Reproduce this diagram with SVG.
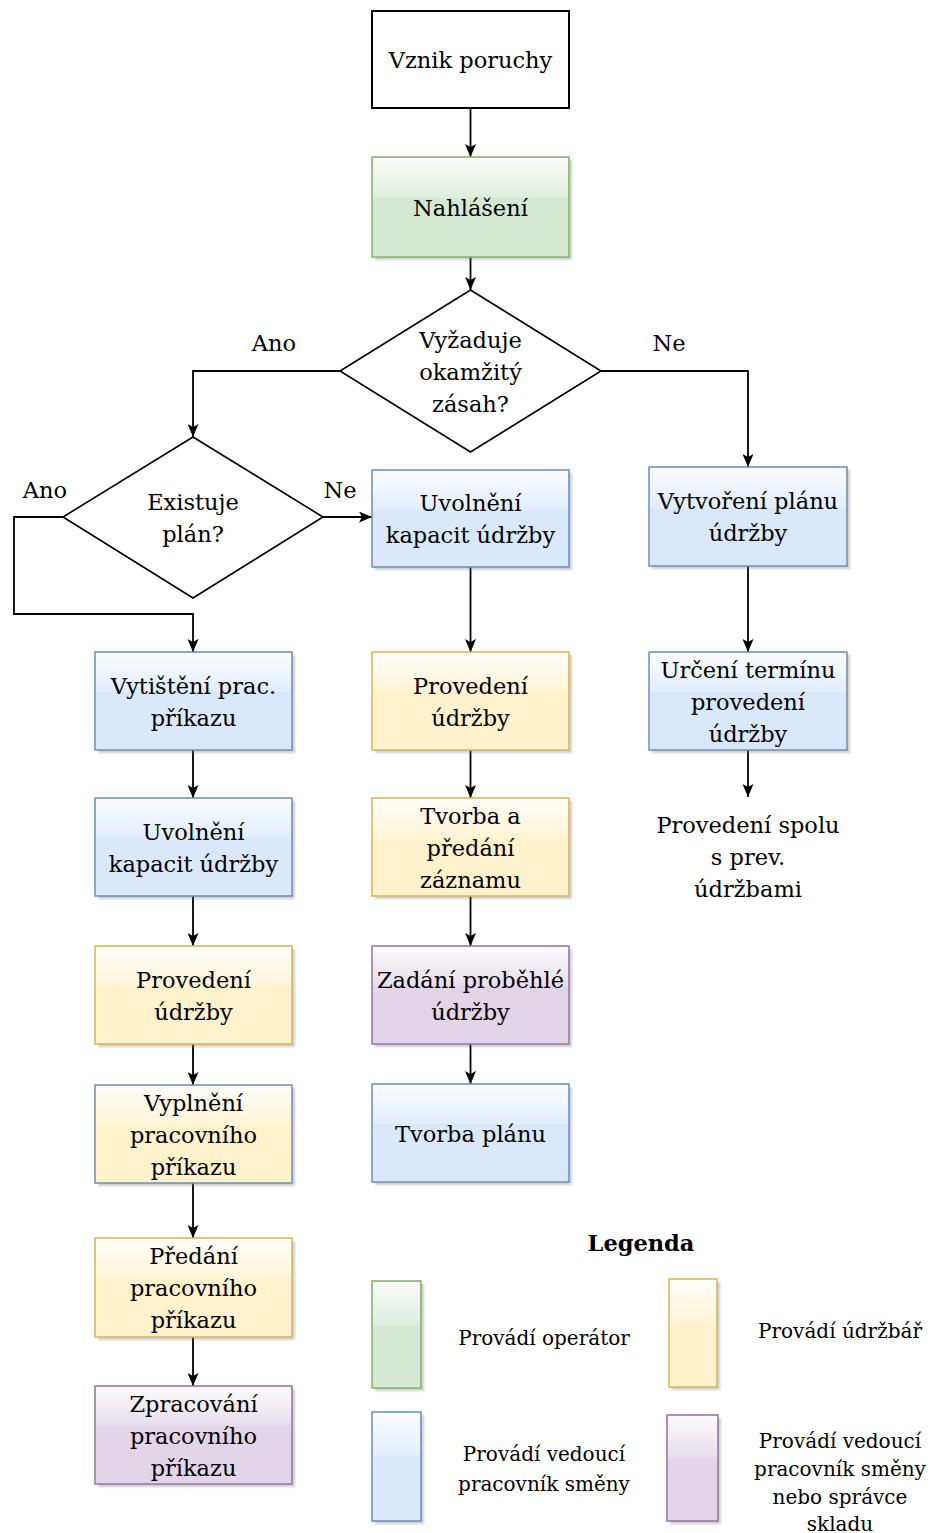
<svg xmlns="http://www.w3.org/2000/svg" width="931" height="1533" viewBox="0 0 931 1533">
  <style>
    text { font-family: "DejaVu Serif", "Liberation Serif", serif; font-size: 22.5px; fill: #000; text-anchor: middle; }
    .lg { font-size: 20px; }
    .title { font-weight: bold; font-size: 22.5px; }
    .box { stroke-width: 1.5; }
    .g { fill: #d5e8d4; stroke: #82b366; }
    .b { fill: #dae8fc; stroke: #6c8ebf; }
    .y { fill: #fff2cc; stroke: #d6b656; }
    .yb { fill: #fff2cc; stroke: #6c8ebf; }
    .p { fill: #e1d5e7; stroke: #9673a6; }
    .glass { fill: url(#glass); stroke: none; }
    .shadow { fill: #777; opacity: 0.35; filter: url(#soft); }
    .dia { fill: #fff; stroke: #000; stroke-width: 1.6; }
    .edge { fill: none; stroke: #000; stroke-width: 1.8; marker-end: url(#arrow); }
  </style>
  <defs>
    <linearGradient id="glass" x1="0" y1="0" x2="0" y2="1">
      <stop offset="0" stop-color="#fff" stop-opacity="0.9"/>
      <stop offset="1" stop-color="#fff" stop-opacity="0.2"/>
    </linearGradient>
    <filter id="soft" x="-10%" y="-10%" width="120%" height="120%">
      <feGaussianBlur stdDeviation="1"/>
    </filter>
    <marker id="arrow" viewBox="0 0 13 11" markerWidth="13" markerHeight="11" refX="13" refY="5.5" orient="auto" markerUnits="userSpaceOnUse">
      <path d="M0,0 L13,5.5 L0,11 L3,5.5 z" fill="#000"/>
    </marker>
  </defs>

  <rect width="931" height="1533" fill="#fff"/>

  <!-- connectors -->
  <g id="connectors">
    <line class="edge" x1="470.5" y1="108" x2="470.5" y2="157"/>
    <line class="edge" x1="470.5" y1="257" x2="470.5" y2="290"/>
    <polyline class="edge" points="340,371 193,371 193,437"/>
    <polyline class="edge" points="601,371 748,371 748,467"/>
    <line class="edge" x1="323" y1="517" x2="372" y2="517"/>
    <polyline class="edge" points="63,517 14,517 14,614 193,614 193,652"/>
    <line class="edge" x1="470.5" y1="567" x2="470.5" y2="652"/>
    <line class="edge" x1="748" y1="566" x2="748" y2="652"/>
    <line class="edge" x1="748" y1="750" x2="748" y2="797"/>
    <line class="edge" x1="193" y1="750" x2="193" y2="798"/>
    <line class="edge" x1="193" y1="896" x2="193" y2="946"/>
    <line class="edge" x1="193" y1="1044" x2="193" y2="1085"/>
    <line class="edge" x1="193" y1="1183" x2="193" y2="1238"/>
    <line class="edge" x1="193" y1="1337" x2="193" y2="1386"/>
    <line class="edge" x1="470.5" y1="750" x2="470.5" y2="798"/>
    <line class="edge" x1="470.5" y1="896" x2="470.5" y2="946"/>
    <line class="edge" x1="470.5" y1="1044" x2="470.5" y2="1084"/>
    <text x="274" y="351">Ano</text>
    <text x="669" y="351">Ne</text>
    <text x="45" y="498">Ano</text>
    <text x="340" y="498">Ne</text>
  </g>

  <!-- start -->
  <g id="n_vznik">
    <rect x="372" y="11" width="197" height="97" fill="#fff" stroke="#000" stroke-width="2"/>
    <text x="470.5" y="68">Vznik poruchy</text>
  </g>

  <g id="n_nahlaseni">
    <rect class="shadow" x="375" y="160" width="197" height="100"/>
    <rect class="box g" x="372" y="157" width="197" height="100"/>
    <rect class="glass" x="373" y="158" width="195" height="40"/>
    <text x="470.5" y="215.5">Nahlášení</text>
  </g>

  <!-- decisions -->
  <g id="n_okamzity">
    <polygon class="dia" points="470.5,290 601,371 470.5,452 340,371"/>
    <text x="470.5" y="347.5">Vyžaduje</text>
    <text x="470.5" y="379.5">okamžitý</text>
    <text x="470.5" y="411.5">zásah?</text>
  </g>

  <g id="n_plan">
    <polygon class="dia" points="193,437 323,517 193,598 63,517"/>
    <text x="193" y="509.5">Existuje</text>
    <text x="193" y="541.5">plán?</text>
  </g>

  <!-- middle column -->
  <g id="n_uvolneni_a">
    <rect class="shadow" x="375" y="473" width="197" height="97"/>
    <rect class="box b" x="372" y="470" width="197" height="97"/>
    <rect class="glass" x="373" y="471" width="195" height="39"/>
    <text x="470.5" y="511">Uvolnění</text>
    <text x="470.5" y="543">kapacit údržby</text>
  </g>

  <g id="n_provedeni_a">
    <rect class="shadow" x="375" y="655" width="197" height="98"/>
    <rect class="box y" x="372" y="652" width="197" height="98"/>
    <rect class="glass" x="373" y="653" width="195" height="39"/>
    <text x="470.5" y="693.5">Provedení</text>
    <text x="470.5" y="725.5">údržby</text>
  </g>

  <g id="n_zaznam">
    <rect class="shadow" x="375" y="801" width="197" height="98"/>
    <rect class="box y" x="372" y="798" width="197" height="98"/>
    <rect class="glass" x="373" y="799" width="195" height="39"/>
    <text x="470.5" y="823.5">Tvorba a</text>
    <text x="470.5" y="855.5">předání</text>
    <text x="470.5" y="887.5">záznamu</text>
  </g>

  <g id="n_zadani">
    <rect class="shadow" x="375" y="949" width="197" height="98"/>
    <rect class="box p" x="372" y="946" width="197" height="98"/>
    <rect class="glass" x="373" y="947" width="195" height="39"/>
    <text x="470.5" y="987.5">Zadání proběhlé</text>
    <text x="470.5" y="1019.5">údržby</text>
  </g>

  <g id="n_tvorba_planu">
    <rect class="shadow" x="375" y="1087" width="197" height="98"/>
    <rect class="box b" x="372" y="1084" width="197" height="98"/>
    <rect class="glass" x="373" y="1085" width="195" height="39"/>
    <text x="470.5" y="1141.5">Tvorba plánu</text>
  </g>

  <!-- right column -->
  <g id="n_vytvoreni">
    <rect class="shadow" x="652" y="470" width="198" height="99"/>
    <rect class="box b" x="649" y="467" width="198" height="99"/>
    <rect class="glass" x="650" y="468" width="196" height="40"/>
    <text x="748" y="509">Vytvoření plánu</text>
    <text x="748" y="541">údržby</text>
  </g>

  <g id="n_urceni">
    <rect class="shadow" x="652" y="655" width="198" height="98"/>
    <rect class="box b" x="649" y="652" width="198" height="98"/>
    <rect class="glass" x="650" y="653" width="196" height="39"/>
    <text x="748" y="677.5">Určení termínu</text>
    <text x="748" y="709.5">provedení</text>
    <text x="748" y="741.5">údržby</text>
  </g>

  <g id="n_spolu">
    <text x="748" y="833">Provedení spolu</text>
    <text x="748" y="865">s prev.</text>
    <text x="748" y="897">údržbami</text>
  </g>

  <!-- left column -->
  <g id="n_vytisteni">
    <rect class="shadow" x="98" y="655" width="197" height="98"/>
    <rect class="box b" x="95" y="652" width="197" height="98"/>
    <rect class="glass" x="96" y="653" width="195" height="39"/>
    <text x="193.5" y="693.5">Vytištění prac.</text>
    <text x="193.5" y="725.5">příkazu</text>
  </g>

  <g id="n_uvolneni_b">
    <rect class="shadow" x="98" y="801" width="197" height="98"/>
    <rect class="box b" x="95" y="798" width="197" height="98"/>
    <rect class="glass" x="96" y="799" width="195" height="39"/>
    <text x="193.5" y="839.5">Uvolnění</text>
    <text x="193.5" y="871.5">kapacit údržby</text>
  </g>

  <g id="n_provedeni_b">
    <rect class="shadow" x="98" y="949" width="197" height="98"/>
    <rect class="box y" x="95" y="946" width="197" height="98"/>
    <rect class="glass" x="96" y="947" width="195" height="39"/>
    <text x="193.5" y="987.5">Provedení</text>
    <text x="193.5" y="1019.5">údržby</text>
  </g>

  <g id="n_vyplneni">
    <rect class="shadow" x="98" y="1088" width="197" height="98"/>
    <rect class="box yb" x="95" y="1085" width="197" height="98"/>
    <rect class="glass" x="96" y="1086" width="195" height="39"/>
    <text x="193.5" y="1110.5">Vyplnění</text>
    <text x="193.5" y="1142.5">pracovního</text>
    <text x="193.5" y="1174.5">příkazu</text>
  </g>

  <g id="n_predani">
    <rect class="shadow" x="98" y="1241" width="197" height="99"/>
    <rect class="box y" x="95" y="1238" width="197" height="99"/>
    <rect class="glass" x="96" y="1239" width="195" height="40"/>
    <text x="193.5" y="1264">Předání</text>
    <text x="193.5" y="1296">pracovního</text>
    <text x="193.5" y="1328">příkazu</text>
  </g>

  <g id="n_zpracovani">
    <rect class="shadow" x="98" y="1389" width="197" height="98"/>
    <rect class="box p" x="95" y="1386" width="197" height="98"/>
    <rect class="glass" x="96" y="1387" width="195" height="39"/>
    <text x="193.5" y="1411.5">Zpracování</text>
    <text x="193.5" y="1443.5">pracovního</text>
    <text x="193.5" y="1475.5">příkazu</text>
  </g>

  <!-- legend -->
  <g id="legend">
    <text class="title" x="641" y="1251">Legenda</text>

    <rect class="shadow" x="375" y="1284" width="49" height="107"/>
    <rect class="box g" x="372" y="1281" width="49" height="107"/>
    <rect class="glass" x="373" y="1282" width="47" height="43"/>
    <text class="lg" x="544" y="1345">Provádí operátor</text>

    <rect class="shadow" x="672" y="1282" width="48" height="108"/>
    <rect class="box y" x="669" y="1279" width="48" height="108"/>
    <rect class="glass" x="670" y="1280" width="46" height="43"/>
    <text class="lg" x="840" y="1338">Provádí údržbář</text>

    <rect class="shadow" x="375" y="1415" width="49" height="109"/>
    <rect class="box b" x="372" y="1412" width="49" height="109"/>
    <rect class="glass" x="373" y="1413" width="47" height="44"/>
    <text class="lg" x="544" y="1461">Provádí vedoucí</text>
    <text class="lg" x="544" y="1491">pracovník směny</text>

    <rect class="shadow" x="670" y="1418" width="51" height="106"/>
    <rect class="box p" x="667" y="1415" width="51" height="106"/>
    <rect class="glass" x="668" y="1416" width="49" height="42"/>
    <text class="lg" x="840" y="1448">Provádí vedoucí</text>
    <text class="lg" x="840" y="1476">pracovník směny</text>
    <text class="lg" x="840" y="1504">nebo správce</text>
    <text class="lg" x="840" y="1531">skladu</text>
  </g>
</svg>
